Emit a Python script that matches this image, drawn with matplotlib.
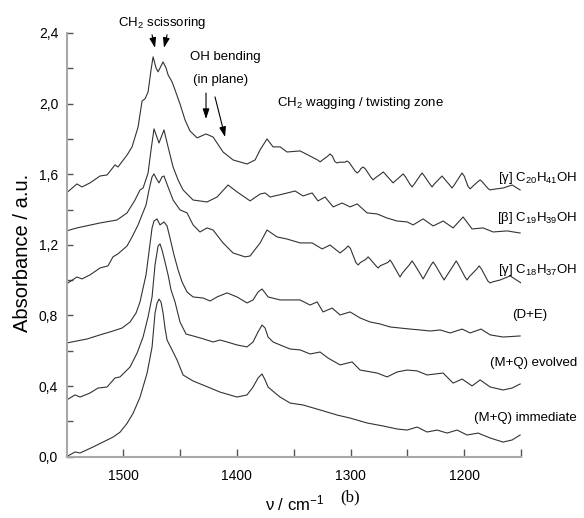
import matplotlib
matplotlib.use("Agg")
import matplotlib.pyplot as plt

# ---------------- data (wavenumber / cm-1, absorbance / a.u.) ----------------
c20_x = [1550, 1540.8, 1536.4, 1529.3, 1520.5, 1514.3, 1507.3, 1504.7, 1496.7, 1492.3,
         1487.0, 1483.5, 1480.9, 1478.2, 1475.6, 1473.8, 1471.2, 1469.4, 1467.7, 1465.0,
         1462.4, 1460.6, 1457.1, 1454.5, 1450.1, 1445.7, 1441.3, 1435.1, 1427.2, 1421.0,
         1412.2, 1403.4, 1391.1, 1384.0, 1379.6, 1373.5, 1368.2, 1362.0, 1355.9, 1344.4,
         1337.4, 1328.8, 1326.8, 1324.8, 1320.0, 1318.0, 1316.0, 1313.8, 1311.8, 1309.8,
         1305.0, 1303.0, 1301.0, 1296.2, 1294.2, 1292.2, 1290.9, 1288.9, 1286.9, 1282.1,
         1280.1, 1278.1, 1273.3, 1271.3, 1269.3, 1264.5, 1262.5, 1260.5, 1255.7, 1253.7,
         1251.7, 1247.8, 1245.8, 1243.8, 1239.0, 1237.0, 1235.0, 1230.2, 1228.2, 1226.2,
         1221.4, 1219.4, 1217.4, 1212.6, 1210.6, 1208.6, 1203.8, 1201.8, 1199.8, 1196.7,
         1194.7, 1192.7, 1187.9, 1185.9, 1183.9, 1179.1, 1177.1, 1175.1, 1165.7, 1157.7,
         1150.7]
c20_y = [1.494, 1.545, 1.528, 1.551, 1.590, 1.596, 1.653, 1.641, 1.709, 1.755,
         1.868, 2.015, 2.027, 2.066, 2.191, 2.265, 2.202, 2.180, 2.202, 2.236,
         2.202, 2.163, 2.123, 2.078, 1.998, 1.908, 1.845, 1.806, 1.828, 1.811,
         1.726, 1.681, 1.658, 1.681, 1.738, 1.800, 1.755, 1.755, 1.726, 1.732,
         1.709, 1.680, 1.670, 1.680, 1.703, 1.715, 1.703, 1.672, 1.664, 1.668,
         1.668, 1.675, 1.665, 1.620, 1.607, 1.618, 1.632, 1.641, 1.630, 1.583,
         1.568, 1.580, 1.602, 1.613, 1.600, 1.565, 1.551, 1.563, 1.590, 1.602,
         1.586, 1.545, 1.528, 1.545, 1.590, 1.607, 1.590, 1.545, 1.528, 1.545,
         1.577, 1.590, 1.574, 1.538, 1.522, 1.540, 1.588, 1.607, 1.588, 1.533,
         1.517, 1.530, 1.558, 1.568, 1.556, 1.520, 1.511, 1.514, 1.522, 1.539,
         1.511]

c19_x = [1550, 1540.8, 1520.5, 1505.5, 1496.7, 1489.7, 1485.3, 1482.6, 1478.2, 1475.6,
         1473.0, 1468.6, 1464.2, 1460.6, 1456.2, 1451.8, 1447.4, 1438.6, 1426.3, 1417.5,
         1407.8, 1399.9, 1388.4, 1379.6, 1375.2, 1370.8, 1359.4, 1348.8, 1341.8, 1333.8,
         1328.6, 1322.4, 1315.3, 1307.4, 1300.4, 1294.2, 1285.4, 1276.6, 1267.8, 1259.0,
         1250.2, 1244.9, 1236.1, 1227.3, 1218.5, 1209.7, 1200.9, 1193.0, 1183.3, 1174.5,
         1162.1, 1150.7]
c19_y = [1.279, 1.296, 1.324, 1.341, 1.381, 1.454, 1.511, 1.522, 1.607, 1.738,
         1.857, 1.777, 1.851, 1.755, 1.641, 1.568, 1.511, 1.454, 1.443, 1.471,
         1.539, 1.500, 1.449, 1.488, 1.494, 1.471, 1.488, 1.505, 1.477, 1.494,
         1.449, 1.471, 1.415, 1.437, 1.415, 1.432, 1.381, 1.375, 1.352, 1.335,
         1.330, 1.313, 1.347, 1.307, 1.335, 1.296, 1.358, 1.290, 1.296, 1.273,
         1.279, 1.267]

c18_x = [1550, 1540.8, 1536.4, 1529.3, 1520.5, 1513.5, 1509.1, 1504.7, 1496.7, 1492.3,
         1487.0, 1483.5, 1480.0, 1477.4, 1474.7, 1473.0, 1471.2, 1468.6, 1465.9, 1464.2,
         1460.6, 1456.2, 1450.1, 1443.9, 1438.6, 1432.5, 1426.3, 1421.0, 1412.2, 1403.4,
         1392.8, 1388.4, 1379.6, 1373.5, 1364.7, 1355.9, 1344.4, 1333.8, 1325.0, 1318.0,
         1309.2, 1304.1, 1302.1, 1300.1, 1295.3, 1293.3, 1291.3, 1286.5, 1284.5, 1282.5,
         1277.7, 1275.7, 1273.7, 1267.2, 1265.2, 1263.2, 1258.4, 1256.4, 1254.4, 1247.8,
         1245.8, 1243.8, 1238.1, 1236.1, 1234.1, 1229.3, 1227.3, 1225.3, 1219.6, 1217.6,
         1215.6, 1209.0, 1207.0, 1205.0, 1199.4, 1197.4, 1195.4, 1188.8, 1186.8, 1184.8,
         1179.1, 1177.1, 1175.1, 1168.3, 1159.5, 1149.8]
c18_y = [0.979, 1.018, 1.007, 1.030, 1.069, 1.081, 1.132, 1.149, 1.194, 1.245,
         1.313, 1.370, 1.426, 1.511, 1.585, 1.602, 1.579, 1.551, 1.585, 1.590,
         1.528, 1.454, 1.398, 1.381, 1.313, 1.273, 1.296, 1.284, 1.211, 1.154,
         1.132, 1.137, 1.211, 1.284, 1.245, 1.233, 1.211, 1.211, 1.177, 1.199,
         1.154, 1.180, 1.194, 1.180, 1.100, 1.086, 1.100, 1.118, 1.132, 1.118,
         1.082, 1.069, 1.082, 1.100, 1.114, 1.095, 1.040, 1.018, 1.040, 1.090,
         1.109, 1.090, 1.030, 1.007, 1.030, 1.085, 1.103, 1.085, 1.022, 1.001,
         1.022, 1.088, 1.109, 1.088, 1.020, 1.001, 1.020, 1.064, 1.081, 1.064,
         0.995, 0.984, 0.990, 1.001, 1.024, 0.984]

de_x = [1550, 1531.9, 1520.5, 1509.1, 1501.1, 1494.1, 1488.8, 1485.3, 1482.6, 1480.0,
        1477.4, 1474.7, 1473.0, 1470.3, 1467.7, 1464.2, 1461.5, 1458.9, 1455.4, 1451.8,
        1448.3, 1443.9, 1438.6, 1429.8, 1423.6, 1417.5, 1408.7, 1399.9, 1391.1, 1385.8,
        1381.4, 1377.9, 1375.2, 1372.6, 1362.0, 1353.2, 1344.4, 1335.6, 1329.4, 1324.2,
        1316.2, 1309.2, 1300.4, 1291.6, 1282.8, 1274.0, 1265.2, 1256.4, 1247.5, 1238.7,
        1229.9, 1221.1, 1212.3, 1201.8, 1194.7, 1185.1, 1177.1, 1165.7, 1150.7]
de_y = [0.644, 0.667, 0.690, 0.712, 0.729, 0.763, 0.814, 0.877, 0.956, 1.030,
        1.160, 1.296, 1.335, 1.347, 1.313, 1.330, 1.307, 1.239, 1.143, 1.058,
        0.990, 0.933, 0.905, 0.899, 0.882, 0.905, 0.928, 0.905, 0.871, 0.888,
        0.933, 0.950, 0.928, 0.905, 0.888, 0.888, 0.888, 0.859, 0.877, 0.820,
        0.842, 0.803, 0.820, 0.786, 0.763, 0.752, 0.735, 0.729, 0.723, 0.718,
        0.712, 0.718, 0.701, 0.723, 0.701, 0.723, 0.690, 0.678, 0.684]

mqe_x = [1550, 1542.5, 1538.1, 1529.3, 1522.3, 1514.3, 1507.3, 1502.9, 1494.1, 1487.9,
         1482.6, 1478.2, 1474.7, 1472.1, 1469.4, 1467.7, 1465.9, 1463.3, 1460.6, 1458.0,
         1454.5, 1450.1, 1444.8, 1438.6, 1432.5, 1421.0, 1414.8, 1408.7, 1399.9, 1391.1,
         1385.8, 1381.4, 1377.9, 1375.2, 1372.6, 1368.2, 1362.0, 1353.2, 1344.4, 1335.6,
         1326.8, 1319.8, 1309.2, 1298.6, 1291.6, 1276.6, 1267.8, 1259.0, 1250.2, 1241.4,
         1232.6, 1218.5, 1209.7, 1201.8, 1193.0, 1185.9, 1177.1, 1165.7, 1157.7, 1150.7]
mqe_y = [0.321, 0.350, 0.338, 0.361, 0.389, 0.395, 0.446, 0.452, 0.508, 0.587,
         0.678, 0.792, 0.905, 1.086, 1.194, 1.205, 1.171, 1.103, 1.030, 0.945,
         0.877, 0.763, 0.695, 0.684, 0.673, 0.650, 0.661, 0.650, 0.633, 0.622,
         0.650, 0.707, 0.746, 0.729, 0.678, 0.650, 0.633, 0.610, 0.605, 0.582,
         0.593, 0.559, 0.520, 0.537, 0.491, 0.474, 0.452, 0.480, 0.491, 0.486,
         0.463, 0.474, 0.417, 0.440, 0.401, 0.435, 0.395, 0.378, 0.389, 0.412]

mqi_x = [1550, 1542.5, 1538.1, 1526.7, 1517.9, 1509.1, 1502.9, 1496.7, 1491.4, 1485.3,
         1479.1, 1474.7, 1472.1, 1470.3, 1468.6, 1466.8, 1465.0, 1463.3, 1461.5, 1457.1,
         1452.7, 1447.4, 1438.6, 1429.8, 1414.8, 1399.9, 1391.1, 1385.8, 1381.4, 1377.9,
         1375.2, 1372.6, 1366.4, 1362.0, 1353.2, 1341.8, 1326.8, 1311.8, 1300.4, 1285.4,
         1271.3, 1259.0, 1250.2, 1241.4, 1232.6, 1223.8, 1215.0, 1206.2, 1197.4, 1187.7,
         1177.1, 1165.7, 1157.7, 1150.7]
mqi_y = [0.000, 0.027, 0.021, 0.055, 0.083, 0.111, 0.139, 0.189, 0.246, 0.337,
         0.473, 0.621, 0.813, 0.870, 0.893, 0.876, 0.813, 0.729, 0.661, 0.605,
         0.548, 0.463, 0.429, 0.406, 0.366, 0.338, 0.350, 0.395, 0.446, 0.469,
         0.435, 0.395, 0.361, 0.338, 0.304, 0.293, 0.265, 0.236, 0.219, 0.191,
         0.174, 0.157, 0.151, 0.168, 0.140, 0.151, 0.134, 0.151, 0.123, 0.134,
         0.106, 0.083, 0.095, 0.123]

series = [(c20_x, c20_y), (c19_x, c19_y), (c18_x, c18_y),
          (de_x, de_y), (mqe_x, mqe_y), (mqi_x, mqi_y)]

labels = [r"[γ] C$_{20}$H$_{41}$OH", r"[β] C$_{19}$H$_{39}$OH", r"[γ] C$_{18}$H$_{37}$OH",
          "(D+E)", "(M+Q) evolved", "(M+Q) immediate"]
label_y = [1.579, 1.352, 1.058, 0.803, 0.531, 0.219]

xticks = [1500, 1400, 1300, 1200]
xminor = [1450, 1350, 1250, 1150]
yticks = [0.0, 0.4, 0.8, 1.2, 1.6, 2.0, 2.4]
ytick_labels = ["0,0", "0,4", "0,8", "1,2", "1,6", "2,0", "2,4"]
yminor = [0.2, 0.6, 1.0, 1.4, 1.8, 2.2]

# ---------------- style ----------------
SANS = ["Liberation Sans", "DejaVu Sans"]
plt.rcParams["font.family"] = SANS
plt.rcParams["mathtext.default"] = "regular"

fig = plt.figure(figsize=(5.84, 5.18), dpi=100)
ax = fig.add_axes([0.1139, 0.1183, 0.7781, 0.818])

for xs, ys in series:
    ax.plot(xs, ys, color="#333333", lw=0.8, solid_joinstyle="round")

ax.set_xlim(1550, 1150)
ax.set_ylim(0, 2.4)
ax.set_xticks(xticks)
ax.set_xticks(xminor, minor=True)
ax.set_yticks(yticks, ytick_labels)
ax.set_yticks(yminor, minor=True)

for s in ["top", "right"]:
    ax.spines[s].set_visible(False)
for s in ["left", "bottom"]:
    ax.spines[s].set_color("#a8a8a8")
    ax.spines[s].set_linewidth(1.5)

ax.tick_params(axis="x", which="both", direction="in", length=6, width=1,
               color="#555555", labelsize=10, pad=9)
ax.tick_params(axis="y", which="both", direction="in", length=4, width=1,
               color="#555555", labelsize=10, pad=6)

ax.set_ylabel("Absorbance / a.u.", fontsize=14.5)
ax.yaxis.set_label_coords(-0.075, 0.48)

fig.text(0.505, 0.028, r"ν / cm$^{-1}$", fontsize=12, ha="center", va="center")
fig.text(0.60, 0.040, "(b)", family=["Liberation Serif", "DejaVu Serif"],
         fontsize=12, ha="center", va="center")

# annotations
FS = 9.5
ax.text(1465.5, 2.457, r"CH$_2$ scissoring", fontsize=FS, ha="center", va="center",
        clip_on=False)
ax.text(1441.3, 2.265, "OH bending", fontsize=FS, ha="left", va="center")
ax.text(1438.6, 2.134, "(in plane)", fontsize=FS, ha="left", va="center")
ax.text(1364.7, 2.004, r"CH$_2$ wagging / twisting zone", fontsize=FS, ha="left",
        va="center")

arrow_kw = dict(arrowstyle="-|>,head_length=0.6,head_width=0.2", color="black", lw=0.8,
                shrinkA=0, shrinkB=0)
ax.annotate("", xy=(1472.1, 2.316), xytext=(1474.7, 2.390), arrowprops=arrow_kw,
            annotation_clip=False)
ax.annotate("", xy=(1464.2, 2.316), xytext=(1461.5, 2.390), arrowprops=arrow_kw,
            annotation_clip=False)
ax.annotate("", xy=(1427.2, 1.913), xytext=(1427.2, 2.060), arrowprops=arrow_kw)
ax.annotate("", xy=(1410.4, 1.811), xytext=(1419.3, 2.038), arrowprops=arrow_kw)

for lab, ly in zip(labels, label_y):
    if lab == "(D+E)":
        ax.text(1157.7, ly, lab, fontsize=FS, ha="left", va="center", clip_on=False)
    else:
        ax.text(1100.5, ly, lab, fontsize=FS, ha="right", va="center", clip_on=False)

fig.savefig("out.png", dpi=100)
